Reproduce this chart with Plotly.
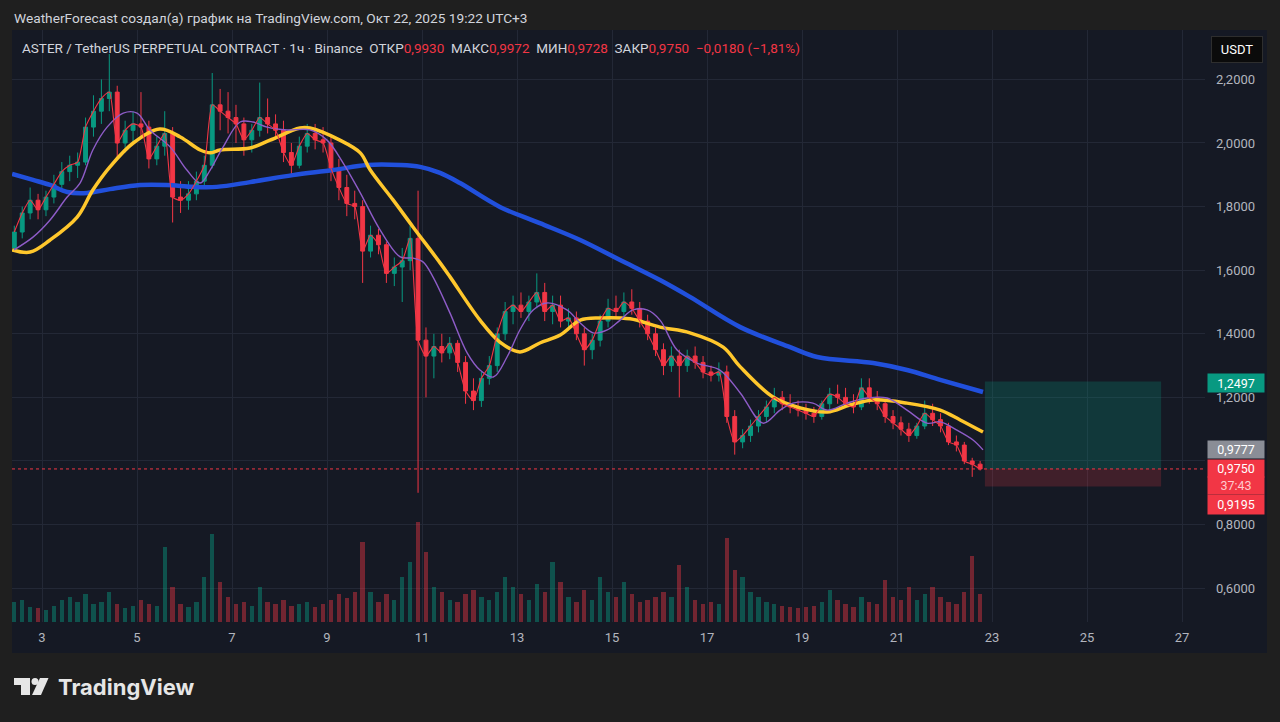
import pandas as pd
import plotly.graph_objects as go

# ---------------- DATA ----------------
# 4-hour candles, first candle 2025-10-02 10:00 (UTC+3)
candle_start = "2025-10-02 10:00"
opens = [1.67, 1.72, 1.78, 1.82, 1.79, 1.83, 1.87, 1.91, 1.93, 1.94,
         2.05, 2.10, 2.14, 2.16, 2.00, 2.04, 2.06, 2.05, 1.95, 1.99,
         2.03, 1.83, 1.82, 1.84, 1.88, 1.93, 2.12, 2.10, 2.08, 2.06,
         2.01, 2.04, 2.08, 2.06, 2.04, 1.97, 1.93, 1.99, 2.03, 2.01,
         2.00, 1.92, 1.86, 1.81, 1.80, 1.66, 1.71, 1.68, 1.59, 1.61,
         1.63, 1.70, 1.38, 1.33, 1.36, 1.34, 1.37, 1.31, 1.22, 1.19,
         1.26, 1.30, 1.40, 1.47, 1.49, 1.47, 1.50, 1.53, 1.47, 1.49,
         1.44, 1.45, 1.40, 1.35, 1.38, 1.44, 1.48, 1.47, 1.50, 1.48,
         1.44, 1.40, 1.35, 1.30, 1.33, 1.30, 1.33, 1.31, 1.28, 1.27,
         1.28, 1.14, 1.06, 1.08, 1.11, 1.14, 1.17, 1.20, 1.18, 1.17,
         1.16, 1.15, 1.14, 1.18, 1.21, 1.20, 1.18, 1.17, 1.23, 1.20,
         1.18, 1.14, 1.12, 1.10, 1.08, 1.11, 1.15, 1.13, 1.11, 1.06,
         1.05, 1.00, 0.99]
highs = [1.74, 1.80, 1.86, 1.84, 1.85, 1.90, 1.94, 1.96, 1.97, 2.08,
         2.15, 2.20, 2.28, 2.18, 2.07, 2.10, 2.16, 2.07, 2.02, 2.10,
         2.05, 1.88, 1.88, 1.91, 1.96, 2.22, 2.17, 2.16, 2.12, 2.08,
         2.06, 2.19, 2.14, 2.09, 2.07, 2.00, 2.02, 2.06, 2.06, 2.05,
         2.02, 1.95, 1.90, 1.85, 1.82, 1.74, 1.73, 1.69, 1.64, 1.67,
         1.74, 1.85, 1.42, 1.40, 1.40, 1.39, 1.38, 1.33, 1.26, 1.28,
         1.33, 1.42, 1.50, 1.52, 1.53, 1.52, 1.59, 1.56, 1.52, 1.52,
         1.48, 1.47, 1.42, 1.40, 1.46, 1.51, 1.52, 1.53, 1.54, 1.50,
         1.46, 1.42, 1.37, 1.36, 1.35, 1.35, 1.36, 1.33, 1.30, 1.31,
         1.30, 1.16, 1.10, 1.13, 1.16, 1.19, 1.23, 1.22, 1.21, 1.19,
         1.18, 1.17, 1.19, 1.23, 1.24, 1.23, 1.21, 1.26, 1.26, 1.22,
         1.19, 1.16, 1.14, 1.12, 1.12, 1.19, 1.18, 1.15, 1.12, 1.08,
         1.06, 1.01, 1.00]
lows = [1.66, 1.70, 1.76, 1.76, 1.77, 1.81, 1.85, 1.88, 1.89, 1.93,
        2.02, 2.06, 2.10, 1.95, 1.97, 2.00, 2.02, 1.92, 1.93, 1.96,
        1.75, 1.78, 1.79, 1.82, 1.86, 1.92, 2.04, 2.03, 2.00, 1.96,
        1.97, 2.02, 2.03, 2.01, 1.94, 1.90, 1.92, 1.97, 1.98, 1.97,
        1.88, 1.82, 1.77, 1.76, 1.56, 1.64, 1.65, 1.56, 1.55, 1.50,
        1.60, 0.90, 1.20, 1.26, 1.31, 1.32, 1.28, 1.18, 1.16, 1.17,
        1.24, 1.28, 1.38, 1.43, 1.45, 1.44, 1.48, 1.44, 1.43, 1.42,
        1.41, 1.38, 1.30, 1.32, 1.36, 1.42, 1.45, 1.45, 1.46, 1.42,
        1.38, 1.33, 1.27, 1.28, 1.20, 1.28, 1.29, 1.26, 1.25, 1.25,
        1.12, 1.02, 1.04, 1.06, 1.09, 1.12, 1.15, 1.16, 1.15, 1.14,
        1.13, 1.12, 1.13, 1.16, 1.18, 1.17, 1.15, 1.16, 1.18, 1.16,
        1.12, 1.10, 1.08, 1.06, 1.07, 1.10, 1.11, 1.09, 1.05, 1.03,
        0.99, 0.95, 0.97]
closes = [1.72, 1.78, 1.82, 1.79, 1.83, 1.87, 1.91, 1.93, 1.94, 2.05,
          2.10, 2.14, 2.16, 2.00, 2.04, 2.06, 2.05, 1.95, 1.99, 2.03,
          1.83, 1.82, 1.84, 1.88, 1.93, 2.12, 2.10, 2.08, 2.06, 2.01,
          2.04, 2.08, 2.06, 2.04, 1.97, 1.93, 1.99, 2.03, 2.01, 2.00,
          1.92, 1.86, 1.81, 1.80, 1.66, 1.71, 1.68, 1.59, 1.61, 1.63,
          1.70, 1.38, 1.33, 1.36, 1.34, 1.37, 1.31, 1.22, 1.19, 1.26,
          1.30, 1.40, 1.47, 1.49, 1.47, 1.50, 1.53, 1.47, 1.49, 1.44,
          1.45, 1.40, 1.35, 1.38, 1.44, 1.48, 1.47, 1.50, 1.48, 1.44,
          1.40, 1.35, 1.30, 1.33, 1.30, 1.33, 1.31, 1.28, 1.27, 1.28,
          1.14, 1.06, 1.08, 1.11, 1.14, 1.17, 1.20, 1.18, 1.17, 1.16,
          1.15, 1.14, 1.18, 1.21, 1.20, 1.18, 1.17, 1.23, 1.20, 1.18,
          1.14, 1.12, 1.10, 1.08, 1.11, 1.15, 1.13, 1.11, 1.06, 1.05,
          1.00, 0.99, 0.975]
volumes = [20, 22, 15, 14, 12, 16, 22, 25, 20, 28,
           18, 20, 30, 18, 14, 16, 22, 18, 16, 75,
           35, 18, 15, 20, 45, 88, 40, 25, 18, 20,
           16, 35, 20, 18, 22, 16, 18, 20, 15, 18,
           22, 28, 24, 30, 80, 30, 20, 28, 22, 45,
           60, 100, 70, 35, 30, 22, 20, 28, 32, 25,
           22, 30, 45, 35, 28, 22, 38, 30, 60, 40,
           25, 20, 32, 22, 45, 30, 25, 40, 28, 20,
           22, 25, 30, 25, 57, 35, 22, 18, 20, 18,
           84, 52, 45, 30, 25, 20, 18, 16, 15, 14,
           15, 16, 20, 32, 22, 18, 15, 25, 20, 18,
           42, 25, 22, 35, 22, 28, 35, 25, 20, 18,
           30, 66, 28]

# Moving averages (day of October, price)
yellow_days = [2.37, 2.75, 3.17, 3.74, 4.07, 4.43, 4.92, 5.48, 5.91, 6.33,
               6.54, 6.75, 7.38, 7.80, 8.43, 8.64, 9.27, 9.70, 9.91, 10.39,
               10.81, 11.38, 11.59, 12.22, 12.64, 13.06, 13.48, 13.91, 14.33, 14.75,
               15.38, 16.01, 16.64, 17.34, 17.70, 18.39, 18.96, 19.53, 20.01, 20.50,
               21.21, 21.91, 22.33, 22.81]
yellow_vals = [1.664, 1.657, 1.695, 1.767, 1.852, 1.925, 2.000, 2.044, 2.019, 1.978,
               1.969, 1.978, 1.984, 2.009, 2.047, 2.047, 2.009, 1.969, 1.915, 1.821,
               1.736, 1.623, 1.579, 1.443, 1.374, 1.343, 1.371, 1.396, 1.443, 1.450,
               1.447, 1.421, 1.403, 1.358, 1.296, 1.201, 1.167, 1.154, 1.176, 1.192,
               1.182, 1.160, 1.129, 1.091]
blue_days = [2.37, 2.81, 3.17, 3.53, 3.95, 4.43, 5.06, 5.63, 6.18, 6.68,
             7.38, 8.28, 9.13, 9.84, 10.54, 10.96, 11.38, 11.80, 12.64, 13.48,
             14.33, 15.17, 16.01, 16.64, 17.70, 18.75, 19.32, 20.50, 21.21, 21.91,
             22.81]
blue_vals = [1.903, 1.884, 1.868, 1.846, 1.843, 1.855, 1.868, 1.868, 1.862, 1.862,
             1.877, 1.899, 1.915, 1.931, 1.931, 1.925, 1.906, 1.874, 1.799, 1.748,
             1.695, 1.632, 1.569, 1.516, 1.421, 1.358, 1.327, 1.308, 1.286, 1.255,
             1.217]
purple_days = [2.41, 2.81, 3.17, 3.53, 3.80, 4.07, 4.37, 4.71, 5.00, 5.27,
               5.70, 6.05, 6.33, 6.54, 6.81, 7.17, 7.44, 7.74, 8.16, 8.64,
               9.00, 9.34, 9.70, 10.12, 10.54, 10.81, 11.02, 11.23, 11.59, 11.95,
               12.22, 12.50, 12.79, 13.06, 13.34, 13.63, 14.05, 14.33, 14.60, 14.90,
               15.17, 15.44, 15.74, 16.01, 16.37, 16.79, 17.27, 17.70, 18.18, 18.54,
               18.81, 19.23, 19.53, 19.95, 20.37, 20.79, 21.21, 21.63, 21.91, 22.26,
               22.60, 22.81]
purple_vals = [1.664, 1.704, 1.758, 1.830, 1.874, 1.978, 2.050, 2.094, 2.094, 2.041,
               1.987, 1.915, 1.874, 1.915, 1.987, 2.066, 2.066, 2.050, 2.041, 2.041,
               2.009, 1.937, 1.843, 1.726, 1.642, 1.638, 1.626, 1.579, 1.465, 1.340,
               1.286, 1.264, 1.327, 1.412, 1.475, 1.497, 1.475, 1.434, 1.403, 1.412,
               1.443, 1.475, 1.475, 1.443, 1.349, 1.308, 1.286, 1.214, 1.119, 1.160,
               1.182, 1.182, 1.160, 1.182, 1.198, 1.198, 1.160, 1.119, 1.123, 1.097,
               1.066, 1.035]

# Axis ticks
x_tick_days = [3, 5, 7, 9, 11, 13, 15, 17, 19, 21, 23, 25, 27]
x_tick_labels = ["3", "5", "7", "9", "11", "13", "15", "17", "19", "21", "23", "25", "27"]
price_ticks = [0.6, 0.8, 1.0, 1.2, 1.4, 1.6, 1.8, 2.0, 2.2]
hidden_price_ticks = [1.0]   # label covered by the price badges in the reference

# Last hourly bar shown in the legend, and price labels
last_bar = {"ОТКР": "0,9930", "МАКС": "0,9972", "МИН": "0,9728", "ЗАКР": "0,9750"}
change_text = "−0,0180 (−1,81%)"
last_price = 0.975
prev_label = 0.9777
countdown = "37:43"
# Long position tool
pos_entry = 0.975
pos_target = 1.2497
pos_stop = 0.9195
pos_start_day = 22.85
pos_end_day = 26.56

# ---------------- LAYOUT HELPERS ----------------
W, H = 1280, 722
PL, PR, PT, PB = 12, 1205, 30, 622

def px(x):
    return (x - PL) / (PR - PL)

def py(y):
    return (PB - y) / (PB - PT)

def oct_day(d):
    return pd.Timestamp("2025-10-01") + pd.Timedelta(days=d - 1)

def fmt(v):
    return f"{v:.4f}".replace(".", ",")

UP = "#089981"
DOWN = "#f23645"
BG = "#151924"
OUTER = "#1f1f1f"
GRID = "#232836"
TXT = "#b2b5be"
FONT = "Roboto"

times = pd.date_range(candle_start, periods=len(closes), freq="4h")
vol_colors = ["rgba(8,153,129,0.45)" if c >= o else "rgba(242,54,69,0.42)"
              for o, c in zip(opens, closes)]

fig = go.Figure()

fig.add_trace(go.Bar(
    x=times, y=volumes, yaxis="y2", marker_color=vol_colors,
    marker_line_width=0, width=4 * 3600 * 1000 * 0.55, hoverinfo="skip"))

fig.add_trace(go.Scatter(
    x=[oct_day(d) for d in blue_days], y=blue_vals, mode="lines",
    line=dict(color="#2150dc", width=4.5, shape="spline", smoothing=1.0), hoverinfo="skip"))
fig.add_trace(go.Scatter(
    x=[oct_day(d) for d in yellow_days], y=yellow_vals, mode="lines",
    line=dict(color="#ffc72c", width=3.5, shape="spline", smoothing=1.0), hoverinfo="skip"))
fig.add_trace(go.Scatter(
    x=[oct_day(d) for d in purple_days], y=purple_vals, mode="lines",
    line=dict(color="#8e5cc8", width=1.4, shape="spline", smoothing=1.0), hoverinfo="skip"))

fig.add_trace(go.Candlestick(
    x=times, open=opens, high=highs, low=lows, close=closes,
    increasing=dict(line=dict(color=UP, width=1), fillcolor=UP),
    decreasing=dict(line=dict(color=DOWN, width=1), fillcolor=DOWN),
    whiskerwidth=0, hoverinfo="skip"))

fig.add_trace(go.Scatter(
    x=times, y=closes, mode="lines",
    line=dict(color="#f23645", width=1.1, shape="spline", smoothing=0.6), hoverinfo="skip"))

shapes = []
# chart frame background
shapes.append(dict(type="rect", xref="paper", yref="paper", layer="below",
                   x0=px(12), x1=px(1267), y0=py(30), y1=py(653),
                   fillcolor=BG, line=dict(width=0)))
# position tool
shapes.append(dict(type="rect", xref="x", yref="y", layer="above",
                   x0=oct_day(pos_start_day), x1=oct_day(pos_end_day),
                   y0=pos_entry, y1=pos_target,
                   fillcolor="rgba(8,153,129,0.24)", line=dict(width=0)))
shapes.append(dict(type="rect", xref="x", yref="y", layer="above",
                   x0=oct_day(pos_start_day), x1=oct_day(pos_end_day),
                   y0=pos_stop, y1=pos_entry,
                   fillcolor="rgba(242,54,69,0.2)", line=dict(width=0)))
# last price dotted line
shapes.append(dict(type="line", xref="paper", yref="y", x0=0, x1=1,
                   y0=last_price, y1=last_price,
                   line=dict(color=DOWN, width=1, dash="dot")))
# TradingView logo
logo_c = "#e6e6e6"
shapes.append(dict(type="path", xref="paper", yref="paper", line=dict(width=0), fillcolor=logo_c,
                   path=f"M {px(14)} {py(678)} L {px(30)} {py(678)} L {px(30)} {py(695)} "
                        f"L {px(21)} {py(695)} L {px(21)} {py(685)} L {px(14)} {py(685)} Z"))
shapes.append(dict(type="circle", xref="paper", yref="paper", line=dict(width=0), fillcolor=logo_c,
                   x0=px(31.5), x1=px(38.5), y0=py(678), y1=py(685)))
shapes.append(dict(type="path", xref="paper", yref="paper", line=dict(width=0), fillcolor=logo_c,
                   path=f"M {px(40)} {py(678)} L {px(48.5)} {py(678)} L {px(41)} {py(695)} "
                        f"L {px(32)} {py(695)} Z"))

annotations = []
annotations.append(dict(
    xref="paper", yref="paper", x=px(12), y=py(18), xanchor="left", yanchor="middle",
    showarrow=False, font=dict(family=FONT, size=13.7, color="#d1d4dc"),
    text="WeatherForecast создал(а) график на TradingView.com, Окт 22, 2025 19:22 UTC+3"))

red = f"color:{DOWN}"
legend = "ASTER / TetherUS PERPETUAL CONTRACT · 1ч · Binance  "
legend += "  ".join(f"{k}<span style='{red}'>{v}</span>" for k, v in last_bar.items())
legend += f"  <span style='{red}'>{change_text}</span>"
annotations.append(dict(
    xref="paper", yref="paper", x=px(20), y=py(48), xanchor="left", yanchor="middle",
    showarrow=False, font=dict(family=FONT, size=13.5, color="#d1d4dc"), text=legend))

annotations.append(dict(
    xref="paper", yref="paper", x=px(1237), y=py(50), xanchor="center", yanchor="middle",
    showarrow=False, text="USDT", font=dict(family=FONT, size=13, color="#ffffff"),
    bgcolor="#0b0b0b", bordercolor="#2e2e2e", borderwidth=1, borderpad=5, width=40))

def price_box(y_px, text, bg, height, color="#ffffff"):
    annotations.append(dict(
        xref="paper", yref="paper", x=px(1236), y=py(y_px), xanchor="center", yanchor="middle",
        showarrow=False, text=text, font=dict(family=FONT, size=12.5, color=color),
        bgcolor=bg, width=56, height=height, borderpad=0))

price_box(382.5, fmt(pos_target), UP, 18)
price_box(449.5, fmt(prev_label), "#8a8d96", 17)
price_box(468.5, fmt(last_price), DOWN, 17)
price_box(485.5, countdown, DOWN, 17, color="#ffc9ce")
price_box(504.5, fmt(pos_stop), DOWN, 19)

annotations.append(dict(
    xref="paper", yref="paper", x=px(56), y=py(687), xanchor="left", yanchor="middle",
    showarrow=False, text="<b>TradingView</b>", font=dict(family="Inter", size=22, color=logo_c)))

price_ticktext = ["" if v in hidden_price_ticks else fmt(v) for v in price_ticks]

fig.update_layout(
    width=W, height=H,
    margin=dict(l=PL, r=W - PR, t=PT, b=H - PB),
    paper_bgcolor=OUTER, plot_bgcolor=BG,
    separators=", ",
    showlegend=False,
    bargap=0,
    hovermode=False,
    shapes=shapes, annotations=annotations,
    xaxis=dict(
        type="date",
        range=[oct_day(2.368), oct_day(27.484)],
        tickvals=[oct_day(d) for d in x_tick_days], ticktext=x_tick_labels,
        showgrid=True, gridcolor=GRID, gridwidth=1, zeroline=False, showline=False,
        ticks="", tickfont=dict(family=FONT, size=13, color=TXT),
        ticklabelstandoff=6, rangeslider=dict(visible=False), fixedrange=True),
    yaxis=dict(
        side="right", range=[0.4937, 2.3553], tickvals=price_ticks, ticktext=price_ticktext,
        showgrid=True, gridcolor=GRID, gridwidth=1, zeroline=False, showline=False,
        ticks="", tickfont=dict(family=FONT, size=13, color=TXT), ticklabelstandoff=10,
        fixedrange=True),
    yaxis2=dict(overlaying="y", range=[0, PB - PT], visible=False, fixedrange=True),
)

fig.write_html(
    "out.html",
    config={"displayModeBar": False, "staticPlot": True},
    post_script="document.body.style.margin='0px';document.body.style.background='#1f1f1f';")
